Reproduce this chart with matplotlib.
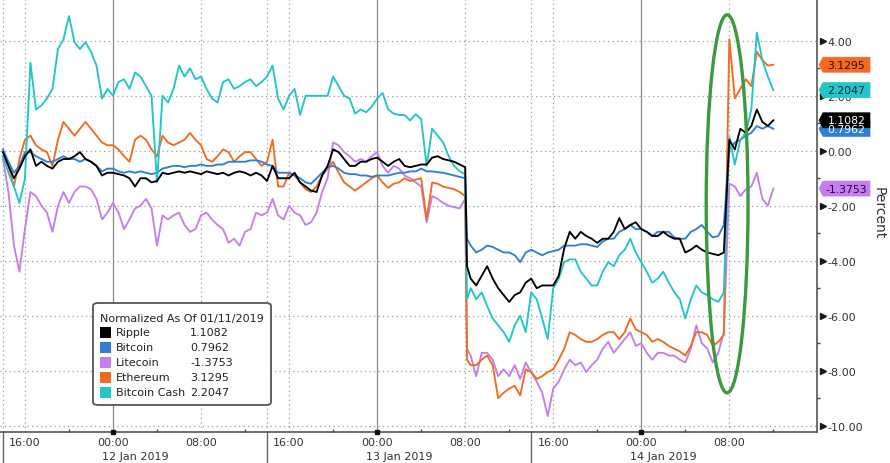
import matplotlib
matplotlib.use("Agg")
import matplotlib.pyplot as plt
import matplotlib.dates as mdates
import pandas as pd
import numpy as np
from matplotlib.patches import Ellipse, FancyBboxPatch, Rectangle, Polygon

plt.rcParams['font.family'] = ['DejaVu Sans']

# ---------------- data (half-hourly readings, % change vs 11 Jan) ----------------
times = (list(pd.date_range('2019-01-11 14:00', '2019-01-13 08:00', freq='30min'))
         + [pd.Timestamp('2019-01-13 08:10')]
         + list(pd.date_range('2019-01-13 08:30', '2019-01-14 12:00', freq='30min')))

ripple = [
    -0.05, -0.55, -1.0, -0.65, -0.2, 0.05, -0.55, -0.4, -0.55, -0.65,
    -0.4, -0.3, -0.3, -0.2, -0.05, -0.3, -0.4, -0.55, -0.9, -0.8,
    -0.8, -0.85, -0.9, -1.0, -1.3, -1.0, -1.0, -1.15, -1.1, -0.8,
    -0.85, -0.8, -0.75, -0.8, -0.75, -0.8, -0.85, -0.75, -0.8, -0.85,
    -0.8, -0.9, -0.8, -0.75, -0.8, -0.9, -0.8, -0.9, -1.1, -0.55,
    -1.0,
    -1.0, -1.0, -0.8, -1.15, -1.3, -1.45, -1.5, -0.9, -0.55, 0.05, -0.05, -0.3,
    -0.55, -0.55, -0.4, -0.4, -0.3, -0.25, -0.4, -0.55, -0.4, -0.3, -0.55, -0.6,
    -0.55, -0.5, -0.5, -0.25, -0.2, -0.3, -0.35, -0.4, -0.5, -0.6,
    -4.2,
    -4.65, -4.9, -4.55, -4.2, -4.65, -5.0, -5.25, -5.5, -5.25, -5.15, -4.8, -4.65, -5.0,
    -4.9, -4.9, -4.9, -4.55, -3.55, -2.95, -3.2, -2.95, -3.1, -3.2, -3.35, -3.2, -3.2,
    -2.95, -2.45, -2.85, -2.7, -2.6, -2.85, -2.95, -3.1, -3.1, -2.95, -3.1, -3.2, -3.2, -3.7, -3.6,
    -3.45, -3.6, -3.7, -3.75, -3.8, -3.7, 0.4, 0.05, 0.8, 0.65, 0.9, 1.5, 1.05, 0.9, 1.1082]

bitcoin = [
    0.05, -0.4, -0.8, -0.55, -0.05, -0.05, -0.2, -0.3, -0.4, -0.4,
    -0.3, -0.2, -0.3, -0.3, -0.4, -0.3, -0.4, -0.55, -0.75, -0.65,
    -0.65, -0.75, -0.8, -0.75, -0.8, -0.75, -0.8, -0.85, -0.8, -0.65,
    -0.6, -0.55, -0.55, -0.6, -0.55, -0.55, -0.5, -0.55, -0.55, -0.5,
    -0.5, -0.4, -0.4, -0.4, -0.4, -0.35, -0.35, -0.4, -0.5, -0.55,
    -0.8,
    -0.8, -0.8, -0.9, -1.0, -1.15, -1.2, -1.0, -0.8, -0.6, -0.55, -0.65, -0.8,
    -0.85, -0.85, -0.9, -0.9, -0.95, -0.9, -0.9, -0.9, -0.85, -0.8, -0.8, -0.75,
    -0.75, -0.65, -0.75, -0.75, -0.78, -0.8, -0.85, -0.9, -0.95, -1.0,
    -3.2,
    -3.45, -3.7, -3.6, -3.45, -3.5, -3.6, -3.7, -3.7, -3.8, -4.05, -3.7, -3.6, -3.7,
    -3.8, -3.7, -3.65, -3.6, -3.45, -3.45, -3.45, -3.4, -3.4, -3.45, -3.5, -3.3, -3.2,
    -3.2, -2.95, -2.85, -2.7, -2.85, -2.85, -2.95, -3.1, -2.95, -2.95, -2.95, -3.15, -3.2, -3.2, -2.95,
    -2.85, -2.7, -2.95, -3.15, -3.1, -2.7, 0.05, 0.3, 0.4, 0.55, 0.65, 0.9, 0.8, 0.9, 0.7962]

litecoin = [
    -0.3, -1.5, -3.45, -4.4, -2.85, -1.5, -1.65, -2.0, -2.25, -2.95,
    -2.0, -1.5, -1.9, -1.5, -1.3, -1.3, -1.4, -1.75, -2.5, -2.25,
    -1.9, -2.25, -2.85, -2.5, -2.1, -2.0, -1.75, -2.1, -3.45, -2.35,
    -2.5, -2.35, -2.25, -2.7, -2.95, -2.85, -2.35, -2.25, -2.5, -2.7,
    -2.85, -3.35, -3.2, -3.45, -2.95, -2.85, -2.25, -2.35, -2.25, -1.75,
    -2.35,
    -2.5, -2.0, -2.25, -2.35, -2.7, -2.6, -2.25, -1.5, -1.0, 0.3, 0.2, -0.05,
    -0.2, -0.4, -0.3, -0.4, -0.2, -0.05, -0.55, -0.8, -0.55, -0.65, -0.9, -1.0,
    -1.15, -1.3, -2.6, -1.65, -1.75, -1.9, -2.0, -2.05, -2.1, -1.75,
    -7.2,
    -7.45, -8.2, -7.35, -7.35, -7.6, -8.2, -7.95, -8.2, -7.8, -8.3, -7.7, -8.05, -8.4,
    -8.8, -9.65, -8.65, -8.4, -7.95, -7.6, -7.8, -7.7, -8.05, -7.8, -7.6, -7.2, -6.95,
    -7.35, -7.1, -6.85, -6.6, -7.1, -7.0, -7.35, -7.6, -7.35, -7.35, -7.45, -7.45, -7.6, -7.7, -7.2,
    -6.35, -7.0, -7.2, -7.7, -7.35, -6.6, -1.2, -1.3, -1.65, -1.4, -1.3, -0.8, -1.75, -2.0, -1.3753]

ethereum = [
    -0.2, -0.55, -1.3, -0.3, 0.4, 0.55, 0.2, 0.05, -0.05, -0.55,
    0.4, 1.05, 0.8, 0.55, 0.8, 1.05, 0.8, 0.55, 0.3, 0.2,
    0.2, 0.05, -0.2, -0.4, 0.4, 0.55, 0.4, 0.05, -0.2, 0.55,
    0.3, 0.2, 0.3, 0.4, 0.65, 0.4, 0.2, -0.3, -0.4, -0.2,
    0.05, -0.05, -0.4, -0.2, -0.05, -0.05, -0.3, -0.55, -0.4, 0.4,
    -1.3,
    -1.3, -0.8, -0.9, -1.15, -1.4, -1.5, -1.3, -0.9, -0.65, -0.4, -0.8, -1.15,
    -1.3, -1.45, -1.3, -1.15, -1.0, -0.9, -1.15, -1.35, -1.2, -1.15, -1.0, -1.1,
    -1.05, -1.0, -2.5, -1.15, -1.2, -1.3, -1.35, -1.4, -1.5, -1.65,
    -7.6,
    -7.8, -7.8, -7.6, -7.45, -7.8, -9.0, -8.8, -8.65, -8.55, -8.9, -7.95, -8.05, -8.3,
    -8.2, -8.05, -7.95, -7.6, -7.2, -6.6, -6.7, -6.85, -6.95, -6.95, -6.85, -6.7, -6.6,
    -6.6, -6.85, -6.6, -6.1, -6.5, -6.6, -6.7, -6.95, -6.85, -6.95, -7.1, -7.2, -7.3, -7.45, -7.1,
    -6.6, -6.6, -6.7, -7.1, -6.95, -6.7, 4.05, 1.9, 2.25, 2.6, 2.35, 3.6, 3.3, 3.1, 3.1295]

bitcoin_cash = [
    -0.2, -0.8, -1.3, -1.9, -1.0, 3.2, 1.5, 1.65, 1.9, 2.25,
    3.7, 4.05, 4.9, 3.95, 3.7, 3.95, 3.6, 3.1, 1.9, 2.25,
    2.0, 2.5, 2.6, 2.25, 2.85, 2.7, 2.35, 2.0, -1.15, 2.0,
    1.75, 2.25, 3.1, 2.7, 3.0, 2.6, 2.7, 2.25, 1.9, 1.75,
    2.5, 2.6, 2.25, 2.35, 2.5, 2.6, 2.35, 2.5, 2.7, 3.1,
    1.9,
    1.5, 2.0, 2.25, 1.3, 2.0, 2.0, 2.0, 2.0, 2.0, 2.7, 2.35, 2.0,
    1.9, 1.35, 1.5, 1.4, 1.6, 1.9, 2.1, 1.5, 1.35, 1.3, 1.3, 1.1,
    1.33, 1.15, -0.55, 0.8, 0.55, 0.3, -0.2, -0.55, -0.75, -0.85,
    -5.4,
    -5.0, -5.4, -5.15, -5.65, -6.1, -6.35, -6.6, -6.95, -6.35, -6.0, -6.6, -5.15, -5.4,
    -6.1, -6.85, -5.0, -4.65, -4.05, -3.95, -3.95, -4.4, -4.65, -4.9, -4.9, -4.4, -4.05,
    -4.2, -3.8, -3.6, -3.2, -3.7, -4.05, -4.4, -4.8, -4.65, -4.4, -4.8, -5.15, -5.4, -6.1, -5.4,
    -4.9, -5.15, -5.25, -5.4, -5.5, -5.15, 0.5, -0.5, 0.4, 0.65, 1.5, 4.3, 3.3, 2.7, 2.2047]

names = ['Ripple', 'Bitcoin', 'Litecoin', 'Ethereum', 'Bitcoin Cash']
last_values = [1.1082, 0.7962, -1.3753, 3.1295, 2.2047]
colors = ['#000000', '#2f7fd8', '#c47ef0', '#f46a1f', '#22c5c9']
tag_text_colors = ['#ffffff', '#ffffff', '#2a0040', '#2a1000', '#00302f']
series = [ripple, bitcoin, litecoin, ethereum, bitcoin_cash]
legend_title = 'Normalized As Of 01/11/2019'
yticks = [4, 2, 0, -2, -4, -6, -8, -10]
day_labels = ['12 Jan 2019', '13 Jan 2019', '14 Jan 2019']

# ---------------- figure ----------------
W, H = 890, 464
fig = plt.figure(figsize=(W / 100, H / 100), dpi=100)
ax_l, ax_b, ax_w, ax_h = 0, 31, 817, 433          # pixels
ax = fig.add_axes([ax_l / W, ax_b / H, ax_w / W, ax_h / H])

ymin, ymax = -10.23, 5.52
ax.set_ylim(ymin, ymax)
ax.set_xlim(pd.Timestamp('2019-01-11 13:44'), pd.Timestamp('2019-01-14 15:58'))

# grid
dot = (0, (1, 2.6))
gcol = '#9c9c9c'
for v in yticks:
    ax.axhline(v, color=gcol, lw=0.9, ls=dot, zorder=1)
dividers = pd.date_range('2019-01-11 14:00', periods=3, freq='D')
midnights = pd.date_range('2019-01-12 00:00', periods=3, freq='D')
sixteens = pd.date_range('2019-01-11 16:00', periods=3, freq='D')
eights = pd.date_range('2019-01-12 08:00', periods=3, freq='D')
for d in list(dividers) + list(sixteens) + list(eights):
    ax.axvline(d, color=gcol, lw=0.9, ls=dot, zorder=1)
for d in midnights:
    ax.axvline(d, color='#8a8a8a', lw=0.9, zorder=1)
for d in dividers:
    ax.axvline(d, ymin=-ax_b / ax_h, ymax=0, color='#666666', lw=1.0, clip_on=False)

# series
order = [2, 3, 1, 4, 0]
for i in order:
    ax.plot(times, series[i], color=colors[i], lw=1.35, zorder=3 + order.index(i) * 0.1,
            solid_joinstyle='round')

# spines
for s in ['top', 'left']:
    ax.spines[s].set_visible(False)
for s in ['right', 'bottom']:
    ax.spines[s].set_color('#555555')
    ax.spines[s].set_linewidth(1.2)

# x axis
ax.xaxis.set_major_locator(mdates.HourLocator(byhour=[0, 8, 16]))
ax.xaxis.set_major_formatter(mdates.DateFormatter('%H:%M'))
ax.xaxis.set_minor_locator(mdates.HourLocator(byhour=[4, 12, 20]))
ax.tick_params(axis='x', which='major', length=0, pad=3.5, labelsize=8, labelcolor='#333333')
ax.tick_params(axis='x', which='minor', length=2.5, direction='in', color='#444444', width=1)
ax.plot(midnights, [0] * len(midnights), 's', ms=2.6, color='#111111',
        transform=ax.get_xaxis_transform(), clip_on=False, zorder=6)
for k, lab in enumerate(day_labels):
    ax.text(midnights[k] + pd.Timedelta(hours=2), -23.7 / ax_h, lab,
            transform=ax.get_xaxis_transform(), ha='center', va='center',
            fontsize=8, color='#333333')

# y axis
ax.yaxis.tick_right()
ax.set_yticks(yticks)
ax.set_yticklabels([f'{v:.2f}' for v in yticks])
ax.set_yticks([v + 1 for v in yticks[1:]], minor=True)
ax.tick_params(axis='y', which='major', length=0, pad=7.2, labelsize=8, labelcolor='#333333')
ax.tick_params(axis='y', which='minor', length=2, direction='out', color='#444444', width=1)
ax.plot([823 / ax_w] * len(yticks), yticks, '>', ms=4.5, color='#1a1a1a',
        transform=ax.get_yaxis_transform(), clip_on=False, zorder=6)
fig.text(879 / W, 1 - 213 / H, 'Percent', rotation=270, ha='center', va='center',
         fontsize=10, color='#333333')

# value tags on the right
dpp = (ymax - ymin) / ax_h
half = 7.5 * dpp
x0, x1, x2 = 819 / ax_w, 823 / ax_w, 870 / ax_w
for i in [3, 4, 1, 0, 2]:
    v = last_values[i]
    poly = Polygon([(x0, v), (x1, v + half), (x2, v + half), (x2, v - half), (x1, v - half)],
                   closed=True, transform=ax.get_yaxis_transform(), clip_on=False,
                   fc=colors[i], ec=colors[i], lw=0.5, zorder=10)
    ax.add_patch(poly)
    ax.text((x1 + x2) / 2, v, f'{v:.4f}', transform=ax.get_yaxis_transform(),
            ha='center', va='center', fontsize=7.8, color=tag_text_colors[i],
            zorder=11, clip_on=False)

# highlight ellipse
cx = mdates.date2num(pd.Timestamp('2019-01-14 07:48'))
ell = Ellipse((cx, -1.93), width=3.8 / 24, height=13.75, fill=False,
              ec='#3c9a3e', lw=2.4, zorder=8)
ax.add_patch(ell)

# legend (manual, Bloomberg style)
def fx(px):
    return px / W

def fy(py):
    return 1 - py / H

box = FancyBboxPatch((fx(93), fy(406)), fx(271) - fx(93), fy(304) - fy(406),
                     boxstyle='round,pad=0,rounding_size=0.006',
                     transform=fig.transFigure, fc='white', ec='#555555', lw=1.3, zorder=20)
fig.patches.append(box)
fig.text(fx(100), fy(319), legend_title, ha='left', va='center', fontsize=8,
         color='#222222', zorder=21)
for k in range(len(names)):
    yc = 333 + 15 * k
    sq = Rectangle((fx(100), fy(yc + 5.5)), fx(111) - fx(100), fy(yc - 5.5) - fy(yc + 5.5),
                   transform=fig.transFigure, fc=colors[k], ec='none', zorder=21)
    fig.patches.append(sq)
    fig.text(fx(116), fy(yc), names[k], ha='left', va='center', fontsize=8,
             color='#222222', zorder=21)
    fig.text(fx(190), fy(yc), f'{last_values[k]:.4f}', ha='left', va='center', fontsize=8,
             color='#222222', zorder=21)

fig.savefig('out.png', dpi=100)
